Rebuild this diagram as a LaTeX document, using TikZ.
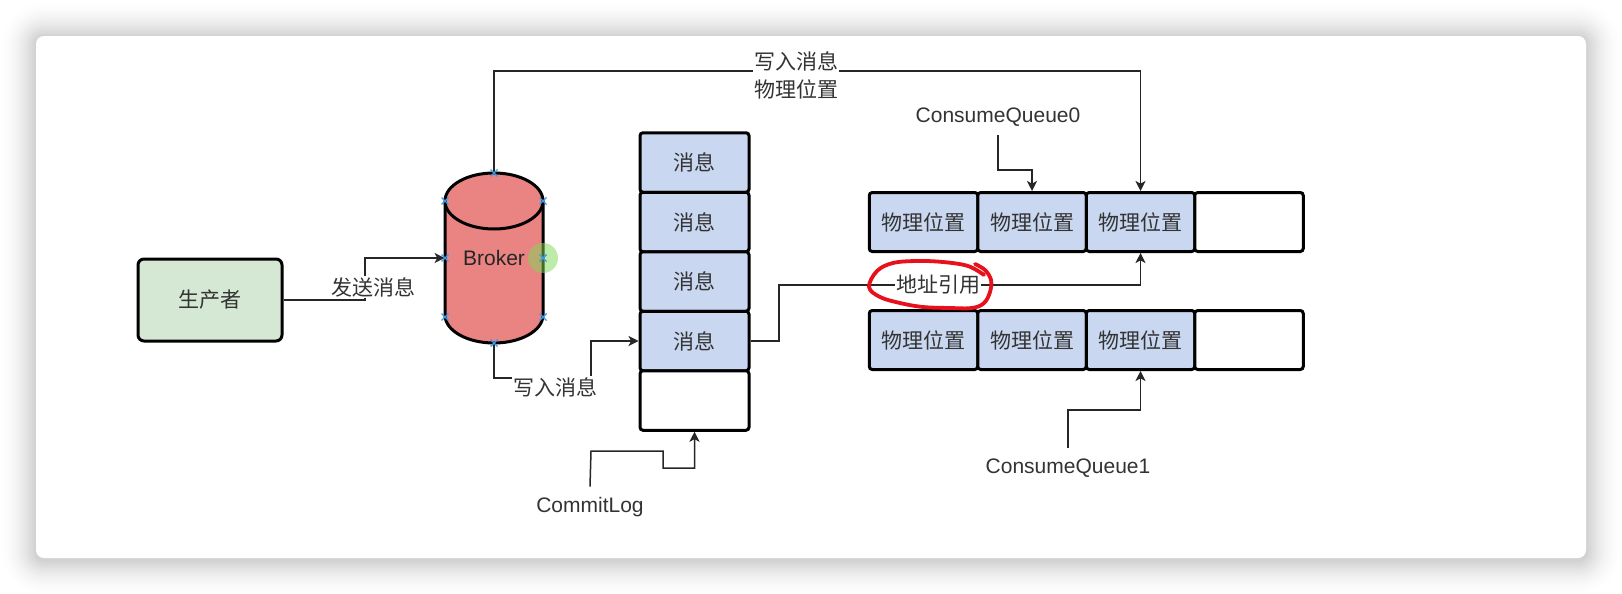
\documentclass[tikz,border=0pt]{standalone}
\usepackage{fontspec}
\setmainfont{Liberation Sans}
\newfontfamily\cjk{Noto Sans CJK SC}
\usetikzlibrary{arrows.meta}
\definecolor{gfill}{HTML}{D5E8D4}
\definecolor{rfill}{HTML}{EA8483}
\definecolor{bfill}{HTML}{C9D7F0}
\definecolor{txt}{HTML}{333333}
\definecolor{markc}{HTML}{3D9BE9}
\definecolor{hl}{HTML}{7ED957}
\definecolor{redpen}{HTML}{E8101A}
\begin{document}
\begin{tikzpicture}[x=0.5pt,y=-0.5pt,
  box/.style={draw=black, line width=1.5pt, rounded corners=1.5pt, inner sep=0pt, text=txt, font=\cjk\fontsize{10.5}{14}\selectfont},
  cell/.style={box, fill=bfill, minimum width=54.5pt, minimum height=29.75pt},
  ecell/.style={box, fill=white, minimum width=54.5pt, minimum height=29.75pt},
  qcell/.style={box, fill=bfill, minimum width=54.25pt, minimum height=29.5pt},
  qecell/.style={box, fill=white, minimum width=54.25pt, minimum height=29.5pt},
  conn/.style={draw=black!85, line width=0.75pt, -{Stealth[length=5pt,width=5pt,inset=1.3pt]}},
  lab/.style={fill=white, inner sep=0.6pt, text=txt, font=\cjk\fontsize{10.5}{14}\selectfont, align=center},
  elab/.style={inner sep=0.6pt, text=txt, font=\fontsize{10.5}{13}\selectfont},
  xmark/.style={draw=markc, line width=0.7pt}
]
\useasboundingbox (0,0) rectangle (1622,594);
% background shadow and card
\foreach \i in {1,...,18}{
  \pgfmathsetmacro\rr{4+\i}
  \pgfmathsetmacro\op{0.019*(19-\i)/19}
  \fill[black, opacity=\op, rounded corners=\rr pt] ({36-2*\i},{37-2*\i}) rectangle ({1586+2*\i},{560+2*\i});
}
\fill[white, rounded corners=4pt] (36,36) rectangle (1586,558);

% producer
\node[box, fill=gfill, rounded corners=3pt, minimum width=72pt, minimum height=41pt] (prod) at (210,300) {生产者};

% broker cylinder
\fill[rfill] (445,201) -- (445,315) arc[start angle=180, end angle=360, x radius=24.5pt, y radius=14pt]
  -- (543,201) arc[start angle=0, end angle=180, x radius=24.5pt, y radius=14pt] -- cycle;
\draw[line width=1.5pt] (445,201) -- (445,315) arc[start angle=180, end angle=360, x radius=24.5pt, y radius=14pt]
  -- (543,201) arc[start angle=0, end angle=180, x radius=24.5pt, y radius=14pt] -- cycle;
\draw[line width=1.5pt] (445,201) arc[start angle=180, end angle=360, x radius=24.5pt, y radius=14pt];
\node[inner sep=0pt, minimum width=49pt, minimum height=85pt, text=black!85, font=\fontsize{10.5}{13}\selectfont] (broker) at (494,258) {Broker};

% commit log column
\node[cell]  (c1) at (694.5,162.5) {消息};
\node[cell]  (c2) at (694.5,222)   {消息};
\node[cell]  (c3) at (694.5,281.5) {消息};
\node[cell]  (c4) at (694.5,341)   {消息};
\node[ecell] (c5) at (694.5,400.5) {};

% consume queues
\node[qcell]  (qa1) at (923.5,222) {物理位置};
\node[qcell]  (qa2) at (1032,222)  {物理位置};
\node[qcell]  (qa3) at (1140.5,222) {物理位置};
\node[qecell] (qa4) at (1249,222)  {};
\node[qcell]  (qb1) at (923.5,340) {物理位置};
\node[qcell]  (qb2) at (1032,340)  {物理位置};
\node[qcell]  (qb3) at (1140.5,340) {物理位置};
\node[qecell] (qb4) at (1249,340)  {};

% text labels
\node[elab] (cq0) at (998,117) {ConsumeQueue0};
\node[elab] (cq1) at (1068,468) {ConsumeQueue1};
\node[elab] (cl)  at (590,507) {CommitLog};

% connectors
\draw[conn] (prod.east) -| (365,258) -- (broker.west);
\draw[conn] (broker.south) |- (591,378) |- (c4.west);
\draw[conn] (broker.north) -- (494,71) -| (qa3.north);
\draw[conn] ([yshift=-3.5pt]cq0.south) -- (998,170) -| (qa2.north);
\draw[conn] (c4.east) -| (779,285) -| (qa3.south);
\draw[conn] ([yshift=4.5pt]cq1.north) -- (1068,410) -| (qb3.south);
\draw[conn] ([yshift=4.5pt]cl.north) -- (591,451) -- (663,451) -- (663,468) -| (c5.south);

% connector labels
\node[lab] (l1) at (373,287) {发送消息};
\node[lab] (l2) at (555,387) {写入消息};
\node[lab] (l3) at (796,75) {写入消息\\物理位置};
\node[lab] (l4) at (938,285) {地址引用};

% red hand-drawn circle
\draw[redpen, line width=1.9pt, line cap=round] plot[smooth, tension=0.6] coordinates {
 (984,275) (968,266) (943,262) (917,261) (893,263) (877,271) (869,287) (880,297) (900,303)
 (923,307) (950,308) (972,308) (984,303) (990,292) (991,280) (985,270) (975,264)};

% selection highlight and markers on broker
\fill[hl, opacity=0.5] (543,258) circle (7.5pt);
\foreach \p in {(494,173),(445,201),(543,201),(445,258),(543,258),(445,317),(543,317),(494,343)}{
  \draw[xmark] \p ++(-3.5,-3.5) -- ++(7,7);
  \draw[xmark] \p ++(-3.5,3.5) -- ++(7,-7);
}
\end{tikzpicture}
\end{document}
